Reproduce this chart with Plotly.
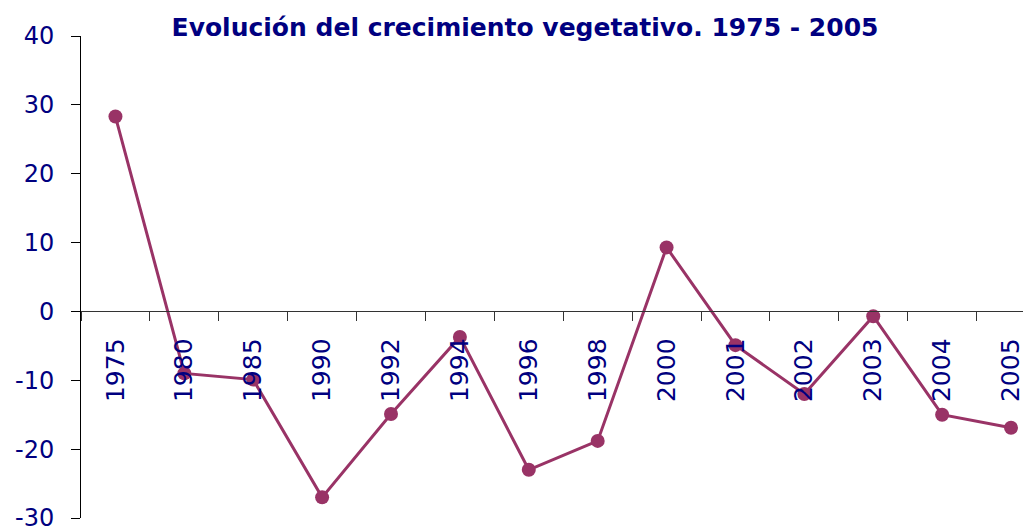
import plotly.graph_objects as go

# ── Data ──────────────────────────────────────────────────────────────────────
years = ["1975", "1980", "1985", "1990", "1992", "1994", "1996",
         "1998", "2000", "2001", "2002", "2003", "2004", "2005"]
crecimiento = [28.3, -9.0, -9.9, -27.0, -14.9, -3.7, -23.0,
               -18.8, 9.3, -4.9, -12.0, -0.7, -15.0, -16.9]
y_ticks = [-30, -20, -10, 0, 10, 20, 30, 40]
y_labels = ["-30", "-20", "-10", "0", "10", "20", "30", "40"]

NAVY = "#000080"
LINE = "#993366"

# page body adds an 8 px offset, so the figure is sized to fit the window
W, H = 1023, 524

fig = go.Figure()
fig.add_trace(go.Scatter(
    x=years,
    y=crecimiento,
    mode="lines+markers",
    line=dict(color=LINE, width=3),
    marker=dict(color=LINE, size=14),
    showlegend=False,
    hoverinfo="x+y",
))

fig.update_layout(
    width=W,
    height=H,
    paper_bgcolor="white",
    plot_bgcolor="white",
    margin=dict(l=73, r=0, t=28, b=14),
    title=dict(
        text="<b>Evolución del crecimiento vegetativo. 1975 - 2005</b>",
        x=517 / W, xanchor="center",
        y=1 - 19 / H, yanchor="middle",
        font=dict(family="Comic Sans MS, DejaVu Sans", size=25, color=NAVY),
    ),
)

# x axis crosses at y = 0
fig.update_xaxes(
    type="category",
    range=[-0.5, 13.29],
    anchor="free",
    position=30 / 70,
    automargin=False,
    showline=True,
    linecolor="#333333",
    linewidth=1,
    ticks="outside",
    tickson="boundaries",
    ticklen=9,
    tickcolor="#333333",
    tickangle=-90,
    ticklabelstandoff=16,
    tickfont=dict(family="Verdana, DejaVu Sans", size=25, color=NAVY),
    showgrid=False,
    zeroline=False,
)

fig.update_yaxes(
    range=[-30, 40],
    tickvals=y_ticks,
    ticktext=y_labels,
    automargin=False,
    ticklabeloverflow="allow",
    showline=True,
    linecolor="black",
    linewidth=1,
    ticks="outside",
    ticklen=9,
    tickcolor="black",
    ticklabelstandoff=12,
    tickfont=dict(family="Comic Sans MS, DejaVu Sans", size=24, color=NAVY),
    showgrid=False,
    zeroline=False,
)

fig.write_html("out.html")
